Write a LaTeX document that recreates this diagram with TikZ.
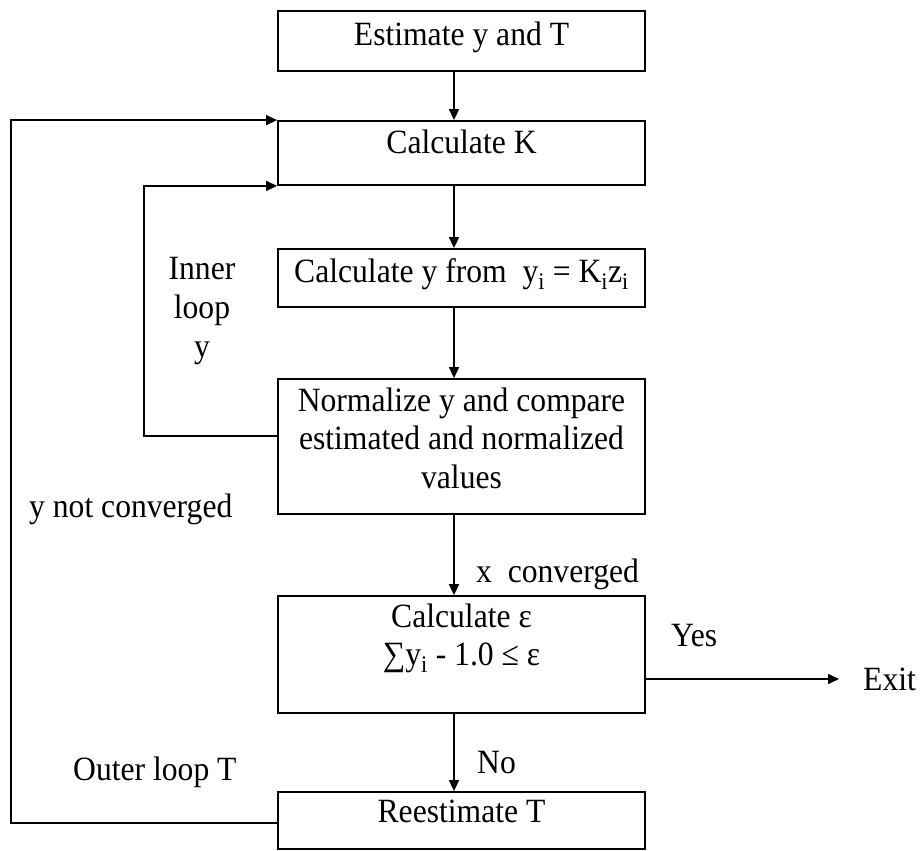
\documentclass[tikz,border=0pt]{standalone}
\usepackage{fontspec}
\setmainfont[FakeStretch=0.93]{Liberation Serif}
\usetikzlibrary{arrows.meta}
\begin{document}
\begin{tikzpicture}[x=1pt,y=-1pt,
  font=\fontsize{34}{38.5}\selectfont,
  box/.style={draw, line width=1.8pt, minimum width=367pt, inner sep=0pt, align=center},
  arr/.style={-{Triangle[length=11pt,width=10pt]}, line width=1.5pt},
  lbl/.style={inner sep=0pt, anchor=base west}]
\useasboundingbox (0,0) rectangle (921,851);

% boxes
\node[box, minimum height=60pt, text depth=15.2pt] (b1) at (461.5,41) {Estimate y and T};
\node[box, minimum height=64pt, text depth=23.2pt] (bK) at (461.5,153) {Calculate K};
\node[box, minimum height=58pt, text depth=15.2pt] (by) at (461.5,278) {Calculate y from\ \ y\textsubscript{i} = K\textsubscript{i}z\textsubscript{i}};
\node[box, minimum height=135pt, text depth=17.2pt] (bN) at (461.5,446.5) {Normalize y and compare\\estimated and normalized\\values};
\node[box, minimum height=117pt, text depth=39.7pt] (bE) at (461.5,654.5) {Calculate ε\\∑y\textsubscript{i} - 1.0 ≤ ε};
\node[box, minimum height=57pt, text depth=18.2pt] (bR) at (461.5,820.5) {Reestimate T};

% labels
\node[inner sep=0pt, anchor=north, align=center, font=\fontsize{34}{39}\selectfont] (inner) at (202,257.5) {Inner\\loop\\y};
\node[lbl] (ync) at (29,517) {y not converged};
\node[lbl] (xc) at (476,582) {x\ \ converged};
\node[lbl] (yes) at (671,646) {Yes};
\node[lbl] (no) at (477,773) {No};
\node[lbl] (outer) at (73,780) {Outer loop T};
\node[anchor=west, inner xsep=24pt, inner ysep=0pt] (exit) at (839,679) {Exit};

% helper coordinates
\coordinate (ax) at (454,0);
\coordinate (il) at (144,0);
\coordinate (ol) at (11,0);

% main flow
\draw[arr] (b1.south -| ax) -- (bK.north -| ax);
\draw[arr] (bK.south -| ax) -- (by.north -| ax);
\draw[arr] (by.south -| ax) -- (bN.north -| ax);
\draw[arr] (bN.south -| ax) -- (bE.north -| ax);
\draw[arr] (bE.south -| ax) -- (bR.north -| ax);
\draw[arr] (bE.east |- exit.west) -- (exit.west);

% inner loop
\draw[arr] ([yshift=10.5pt]bN.west) -| (il |- bK.south) -- (bK.south west);
% outer loop
\draw[arr] ([yshift=-2.5pt]bR.west) -| (ol |- bK.north) -- (bK.north west);
\end{tikzpicture}
\end{document}
